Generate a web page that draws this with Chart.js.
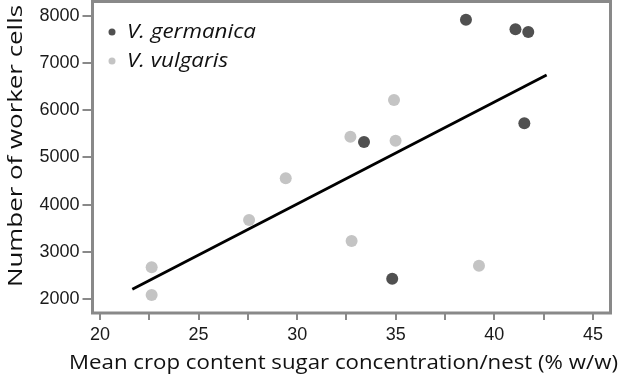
<!DOCTYPE html>
<html>
<head>
<meta charset="utf-8">
<script src="https://cdn.jsdelivr.net/npm/chart.js@4.4.1/dist/chart.umd.min.js"></script>
<style>
  html, body { margin: 0; padding: 0; background: #ffffff; }
  #wrap { width: 619px; height: 376px; position: relative; }
</style>
</head>
<body>
<div id="wrap"><canvas id="c" width="619" height="376"></canvas></div>
<script>
// ---- Data ----
const seriesNames = ['V. germanica', 'V. vulgaris'];
const germanicaX = [38.56, 41.07, 41.72, 41.52, 33.39, 34.82];
const germanicaY = [7920, 7718, 7660, 5725, 5328, 2430];
const vulgarisX = [34.91, 32.70, 34.99, 29.42, 27.56, 22.62, 22.62, 32.76, 39.22];
const vulgarisY = [6219, 5441, 5356, 4559, 3675, 2672, 2085, 3230, 2706];
const fitX = [21.64, 42.65];
const fitY = [2205, 6750];
const xTicks = [20, 22.5, 25, 27.5, 30, 32.5, 35, 37.5, 40, 42.5, 45];
const xTickLabels = ['20', '', '25', '', '30', '', '35', '', '40', '', '45'];
const yTicks = [2000, 3000, 4000, 5000, 6000, 7000, 8000];
const xTitle = 'Mean crop content sugar concentration/nest (% w/w)';
const yTitle = 'Number of worker cells';

const toPts = (xs, ys) => xs.map((x, i) => ({ x: x, y: ys[i] }));

const frameColor = '#898989';
const darkColor = '#505050';
const lightColor = '#c4c4c4';

function stretchText(ctx, text, x, y, targetW) {
  const w = ctx.measureText(text).width;
  const sx = targetW / w;
  ctx.save();
  ctx.translate(x, y);
  ctx.scale(sx, 1);
  ctx.fillText(text, 0, 0);
  ctx.restore();
}

const framePlugin = {
  id: 'frameAndTitles',
  afterDatasetsDraw(chart) {
    const { ctx, chartArea: a } = chart;
    ctx.save();
    ctx.strokeStyle = frameColor;
    ctx.lineWidth = 3;
    ctx.strokeRect(a.left, a.top, a.right - a.left, a.bottom - a.top);
    ctx.restore();
  },
  afterDraw(chart) {
    const { ctx } = chart;
    ctx.save();
    ctx.fillStyle = '#111111';
    ctx.font = '20px "Open Sans"';
    ctx.textAlign = 'center';
    ctx.textBaseline = 'middle';
    stretchText(ctx, chart.scales.x.options.title.text, 343.5, 363, 549);
    ctx.save();
    ctx.translate(16, 146);
    ctx.rotate(-Math.PI / 2);
    stretchText(ctx, chart.scales.y.options.title.text, 0, 0, 282);
    ctx.restore();
    ctx.restore();

    ctx.save();
    ctx.font = 'italic 20px "Open Sans"';
    ctx.textAlign = 'left';
    ctx.textBaseline = 'middle';
    const rows = [32, 61];
    chart.data.datasets.slice(0, 2).forEach((ds, i) => {
      ctx.fillStyle = ds.backgroundColor;
      ctx.beginPath();
      ctx.arc(112, rows[i], 3.5, 0, Math.PI * 2);
      ctx.fill();
      ctx.fillStyle = '#111111';
      const w = ctx.measureText(ds.label).width;
      stretchText(ctx, ds.label, 127, rows[i], w * 1.12);
    });
    ctx.restore();
  }
};

new Chart(document.getElementById('c'), {
  type: 'scatter',
  data: {
    datasets: [
      { label: seriesNames[0], data: toPts(germanicaX, germanicaY), backgroundColor: darkColor, borderWidth: 0, pointRadius: 6, pointHoverRadius: 6 },
      { label: seriesNames[1], data: toPts(vulgarisX, vulgarisY), backgroundColor: lightColor, borderWidth: 0, pointRadius: 6, pointHoverRadius: 6 },
      { type: 'line', label: 'fit', data: toPts(fitX, fitY), borderColor: '#000000', borderWidth: 2.8, pointRadius: 0, fill: false, showLine: true }
    ]
  },
  options: {
    responsive: false,
    animation: false,
    events: [],
    layout: { autoPadding: false, padding: { left: 0, right: 8.5, top: 1.5, bottom: 0 } },
    plugins: { legend: { display: false }, tooltip: { enabled: false } },
    scales: {
      x: {
        type: 'linear',
        min: 19.62, max: 45.89,
        afterBuildTicks: (s) => { s.ticks = xTicks.map(v => ({ value: v })); },
        afterFit: (s) => { s.height = 63; s.paddingLeft = 0; s.paddingRight = 0; s.paddingTop = 0; s.paddingBottom = 0; },
        ticks: {
          autoSkip: false, maxRotation: 0, padding: 4,
          color: '#1a1a1a',
          font: { family: '"Liberation Sans", Arial', size: 18 },
          callback: (v, i) => xTickLabels[i]
        },
        grid: { display: true, drawOnChartArea: false, drawTicks: true, tickLength: 7, color: frameColor, lineWidth: 2 },
        border: { display: false },
        title: { display: false, text: xTitle }
      },
      y: {
        type: 'linear',
        min: 1703, max: 8307,
        afterBuildTicks: (s) => { s.ticks = yTicks.map(v => ({ value: v })); },
        afterFit: (s) => { s.width = 92.5; s.paddingTop = 0; s.paddingBottom = 0; s.paddingLeft = 0; s.paddingRight = 0; },
        ticks: {
          autoSkip: false, padding: 3,
          color: '#1a1a1a',
          font: { family: '"Liberation Sans", Arial', size: 18 },
          callback: (v) => String(v)
        },
        grid: { display: true, drawOnChartArea: false, drawTicks: true, tickLength: 10, color: frameColor, lineWidth: 2 },
        border: { display: false },
        title: { display: false, text: yTitle }
      }
    }
  },
  plugins: [framePlugin]
});
</script>
</body>
</html>
